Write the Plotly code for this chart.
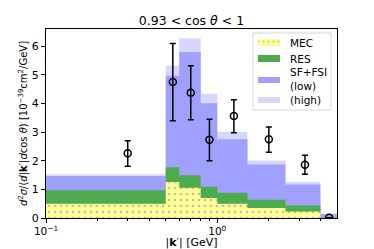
import plotly.graph_objects as go

# bin edges of |k'| [GeV]
edges = [0.1, 0.5, 0.6, 0.8, 1.0, 1.5, 2.5, 4.0, 5.0]
# contributions per bin (stacked)
mec = [0.50, 1.26, 1.06, 0.70, 0.50, 0.35, 0.23, 0.0]
res = [0.47, 0.51, 0.43, 0.39, 0.38, 0.29, 0.21, 0.0]
sf_low = [0.50, 3.20, 4.31, 2.92, 1.87, 1.23, 0.73, 0.13]
sf_high_extra = [0.06, 0.35, 0.47, 0.33, 0.26, 0.14, 0.09, 0.02]

# data points
data_x = [0.30, 0.55, 0.70, 0.90, 1.25, 2.0, 3.25, 4.5]
data_y = [2.26, 4.75, 4.37, 2.73, 3.56, 2.75, 1.86, 0.01]
data_err_up = [0.44, 1.34, 0.95, 0.72, 0.57, 0.43, 0.33, 0.0]
data_err_dn = [0.45, 1.35, 0.94, 0.73, 0.58, 0.45, 0.33, 0.0]

legend_labels = ["MEC", "RES", "SF+FSI<br>(low)", "(high)"]

def cum(*arrs):
    return [sum(v) for v in zip(*arrs)]

top_mec = mec
top_res = cum(mec, res)
top_low = cum(mec, res, sf_low)
top_high = cum(mec, res, sf_low, sf_high_extra)

def step(vals):
    return list(edges), list(vals) + [vals[-1]]

C_MEC = "rgb(255,255,153)"
C_RES = "rgb(77,170,77)"
C_LOW = "rgb(160,160,255)"
C_HIGH = "rgb(214,214,255)"
MEC_PAT = dict(shape=".", fgcolor="rgb(140,140,140)", bgcolor=C_MEC, size=6, solidity=0.15)

fig = go.Figure()

layers = [
    (top_high, C_HIGH, None),
    (top_low, C_LOW, None),
    (top_res, C_RES, None),
    (top_mec, C_MEC, MEC_PAT),
]
for vals, color, pat in layers:
    xs, ys = step(vals)
    kw = {}
    if pat:
        kw["fillpattern"] = pat
    fig.add_trace(go.Scatter(
        x=xs, y=ys, mode="lines", line=dict(width=0, shape="hv", color=color),
        fill="tozeroy", fillcolor=color, showlegend=False, hoverinfo="skip", **kw))

fig.add_trace(go.Scatter(
    x=data_x, y=data_y, mode="markers",
    marker=dict(symbol="circle-open", size=7, color="black", line=dict(width=1.5)),
    error_y=dict(type="data", symmetric=False, array=data_err_up, arrayminus=data_err_dn,
                 color="black", thickness=1.5, width=3),
    showlegend=False))

# ---- manual legend on an overlay axis measured in pixels ----
L, R, T, B = 46, 337, 29, 218
fig.add_shape(type="rect", xref="x2", yref="y2", x0=253, x1=331, y0=33, y1=110,
              line=dict(color="rgb(215,215,215)", width=1), fillcolor="white", layer="below")
sw_x0, sw_x1 = 258, 280
swatches = [(39, 46, C_MEC, MEC_PAT), (55, 62, C_RES, None),
            (77, 83, C_LOW, None), (97, 103, C_HIGH, None)]
for y0, y1, color, pat in swatches:
    kw = {}
    if pat:
        kw["fillpattern"] = dict(pat, size=5)
    fig.add_trace(go.Scatter(
        x=[sw_x0, sw_x1, sw_x1, sw_x0, sw_x0], y=[y0, y0, y1, y1, y0],
        xaxis="x2", yaxis="y2", mode="lines", line=dict(width=0, color=color),
        fill="toself", fillcolor=color, showlegend=False, hoverinfo="skip", **kw))
text_y = [42.5, 59, 79, 100]
for lab, ty in zip(legend_labels, text_y):
    fig.add_annotation(xref="x2", yref="y2", x=288, y=ty, text=lab, showarrow=False,
                       xanchor="left", yanchor="middle", align="left",
                       font=dict(size=10.5, color="black"))

font = "DejaVu Sans"
fig.update_layout(
    width=374, height=249,
    margin=dict(l=L, r=374 - R, t=T, b=249 - B, autoexpand=False),
    paper_bgcolor="white", plot_bgcolor="white",
    font=dict(family=font, size=11, color="black"),
    title=dict(text="0.93 < cos <i>θ</i> < 1", x=0.5, xanchor="center",
               xref="paper", yref="container", y=1 - 20.5 / 249, yanchor="middle",
               font=dict(size=12.5)),
    showlegend=False,
    xaxis=dict(type="log", range=[-1, 0.699], showgrid=False, zeroline=False,
               automargin=False,
               showline=True, linecolor="black", linewidth=1, mirror=True,
               ticks="outside", ticklen=3.5, tickcolor="black",
               tickfont=dict(size=10.5),
               tickvals=[0.1, 1], ticktext=["10<sup>−1</sup>", "10<sup>0</sup>"],
               minor=dict(ticks="outside", ticklen=2, tickcolor="black",
                          tickvals=[0.2, 0.3, 0.4, 0.5, 0.6, 0.7, 0.8, 0.9, 2, 3, 4]),
               title=dict(text="|<b>k</b>′| [GeV]", standoff=1, font=dict(size=11))),
    yaxis=dict(range=[0, 6.6], showgrid=False, zeroline=False,
               automargin=False,
               showline=True, linecolor="black", linewidth=1, mirror=True,
               ticks="outside", ticklen=4, tickcolor="black",
               tickvals=[0, 1, 2, 3, 4, 5, 6],
               title=dict(text="<i>d</i><sup>2</sup><i>σ</i>/(<i>d</i>|<b>k</b>′|<i>d</i>cos <i>θ</i>) [10<sup>−39</sup>cm<sup>2</sup>/GeV]",
                          standoff=2, font=dict(size=10))),
    xaxis2=dict(overlaying="x", range=[L, R], visible=False, fixedrange=True),
    yaxis2=dict(overlaying="y", range=[B, T], visible=False, fixedrange=True),
)

fig.write_html("out.html", config={"displayModeBar": False, "staticPlot": True},
               post_script="document.body.style.margin='0';document.body.style.overflow='hidden';")
